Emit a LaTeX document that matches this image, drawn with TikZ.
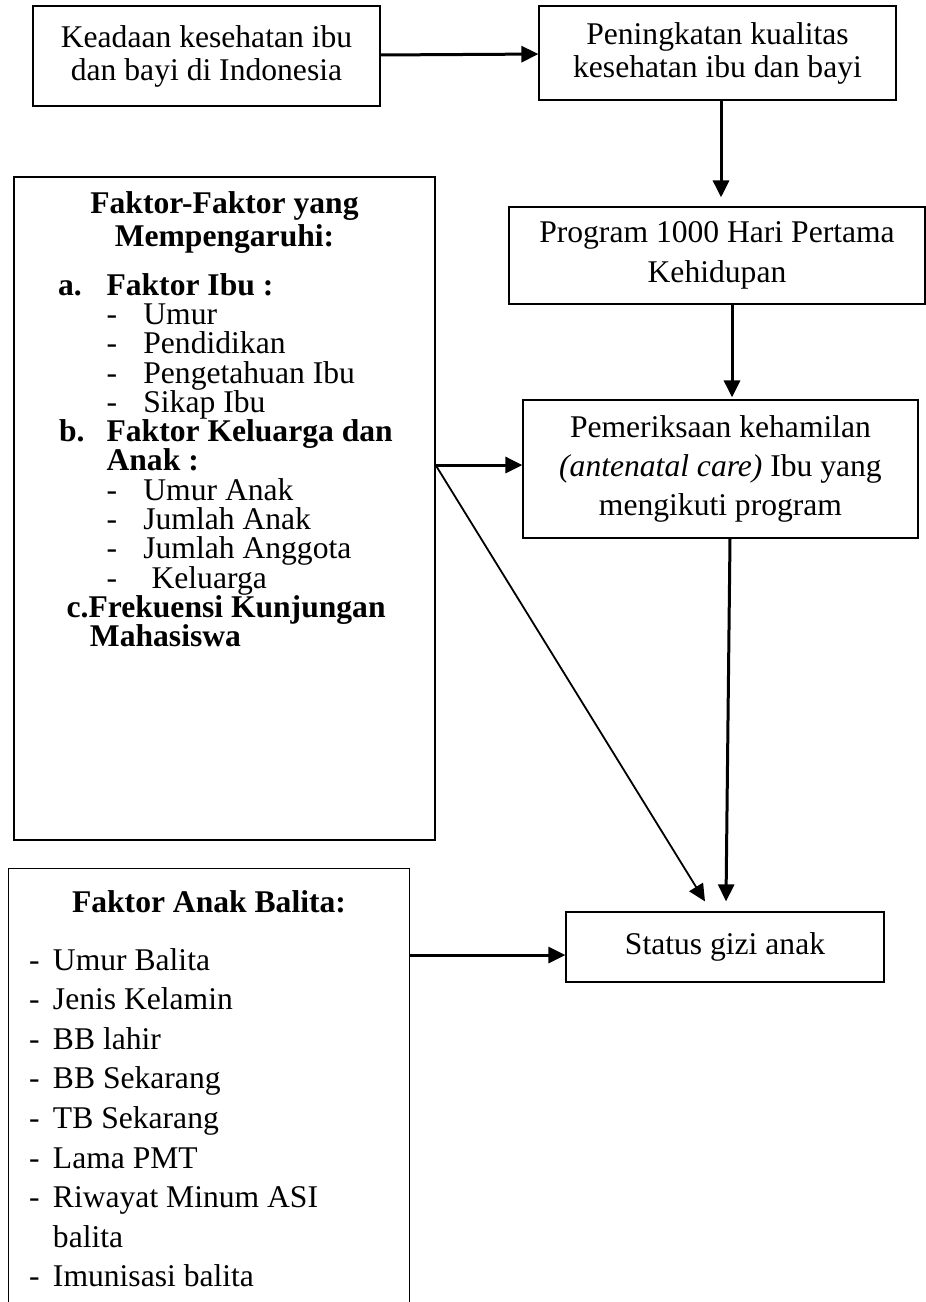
\documentclass[tikz,border=0pt]{standalone}
\usepackage{fontspec}
\setmainfont{Liberation Serif}
\usetikzlibrary{arrows.meta,positioning}
\tikzset{
  box/.style={draw,line width=0.6pt,align=center,inner sep=2pt,
    font=\fontsize{15.8}{16.5}\selectfont},
  listbox/.style={draw,line width=0.6pt,inner sep=0pt},
  frame/.style={line width=0.6pt},
  flow/.style={-{Triangle[length=8.5pt,width=8pt]},line width=1.5pt},
  thinflow/.style={-{Triangle[length=8.5pt,width=8pt]},line width=0.9pt}
}
\newcommand{\fdash}[1]{\hspace*{46.3pt}\makebox[18.4pt][l]{-}#1}
\newcommand{\adash}[1]{\hspace*{10pt}\makebox[12pt][l]{-}#1}

\begin{document}
\begin{tikzpicture}[x=0.5pt,y=-0.5pt]
  \useasboundingbox (0,0) rectangle (926,1302);
  % top row
  \node[box,minimum width=173.5pt,minimum height=50pt] (keadaan) at (206.5,56)
    {Keadaan kesehatan ibu\\dan bayi di Indonesia};
  \node[box,minimum width=178.5pt,minimum height=47pt] (peningkatan) at (717.5,53)
    {Peningkatan kualitas\\kesehatan ibu dan bayi};
  % right column
  \node[box,minimum width=208pt,minimum height=48.5pt,
    font=\fontsize{15.8}{20}\selectfont] (program) at (717,255.5)
    {Program 1000 Hari Pertama\\Kehidupan};
  \node[box,minimum width=197.5pt,minimum height=69pt,
    font=\fontsize{15.8}{19.5}\selectfont] (pemeriksaan) at (720.5,469)
    {Pemeriksaan kehamilan\\\textit{(antenatal care)} Ibu yang\\mengikuti program};
  \node[box,minimum width=159pt,minimum height=35pt] (status) at (725,947)
    {Status gizi anak};
  % factor lists
  \node[listbox] (faktor) at (224.5,508.5) {\parbox[c][331.5pt][t]{210.5pt}{%
    \fontsize{15.8}{14.65}\selectfont
    \vspace*{7.25pt}
    {\centering\bfseries\strut Faktor-Faktor yang\\Mempengaruhi:\par}
    \vspace{9.85pt}
    \raggedright
    \hspace*{22pt}\makebox[24.3pt][l]{\bfseries a.}\textbf{Faktor Ibu :}\\
    \fdash{Umur}\\
    \fdash{Pendidikan}\\
    \fdash{Pengetahuan Ibu}\\
    \fdash{Sikap Ibu}\\
    \hspace*{22.5pt}\makebox[23.8pt][l]{\bfseries b.}\textbf{Faktor Keluarga dan}\\
    \hspace*{46.3pt}\textbf{Anak :}\\
    \fdash{Umur Anak}\\
    \fdash{Jumlah Anak}\\
    \fdash{Jumlah Anggota}\\
    \hspace*{46.3pt}\makebox[22.5pt][l]{-}Keluarga\\
    \hspace*{26.3pt}\textbf{c.Frekuensi Kunjungan}\\
    \hspace*{38pt}\textbf{Mahasiswa}\par}};
  \node[listbox,draw=none] (anak) at (209,1085.5) {\parbox[c][216.5pt][t]{200pt}{%
    \fontsize{15.8}{19.8}\selectfont
    \vspace*{7.64pt}
    {\centering\bfseries\strut Faktor Anak Balita:\par}
    \vspace{9.2pt}
    \raggedright
    \adash{Umur Balita}\\
    \adash{Jenis Kelamin}\\
    \adash{BB lahir}\\
    \adash{BB Sekarang}\\
    \adash{TB Sekarang}\\
    \adash{Lama PMT}\\
    \adash{Riwayat Minum ASI}\\
    \hspace*{22pt}balita\\
    \adash{Imunisasi balita}\par}};
  \draw[frame] (anak.south west) |- (anak.north east) -- (anak.south east);
  % connectors
  \coordinate (p1) at ([xshift=1.75pt]peningkatan.south);
  \coordinate (p2) at ([xshift=7.5pt]program.south);
  \coordinate (p3) at ([xshift=4.75pt]pemeriksaan.south);
  \coordinate (fork) at ([yshift=2pt]faktor.east |- pemeriksaan.west);
  \coordinate (tipL) at ([xshift=-10pt,yshift=5pt]status.north);
  \coordinate (tipR) at ([xshift=0.5pt,yshift=5pt]status.north);
  \coordinate (anakout) at ([yshift=-4pt]anak.east |- status.west);
  \draw[flow] (keadaan) -- (peningkatan);
  \draw[flow,shorten >=4.5pt] (p1) -- (p1 |- program.north);
  \draw[flow,shorten >=1pt] (p2) -- (p2 |- pemeriksaan.north);
  \draw[flow] (fork) -- (fork -| pemeriksaan.west);
  \draw[thinflow] (fork) -- (tipL);
  \draw[flow] (p3) -- (tipR);
  \draw[flow] (anakout) -- (anakout -| status.west);
\end{tikzpicture}
\end{document}
